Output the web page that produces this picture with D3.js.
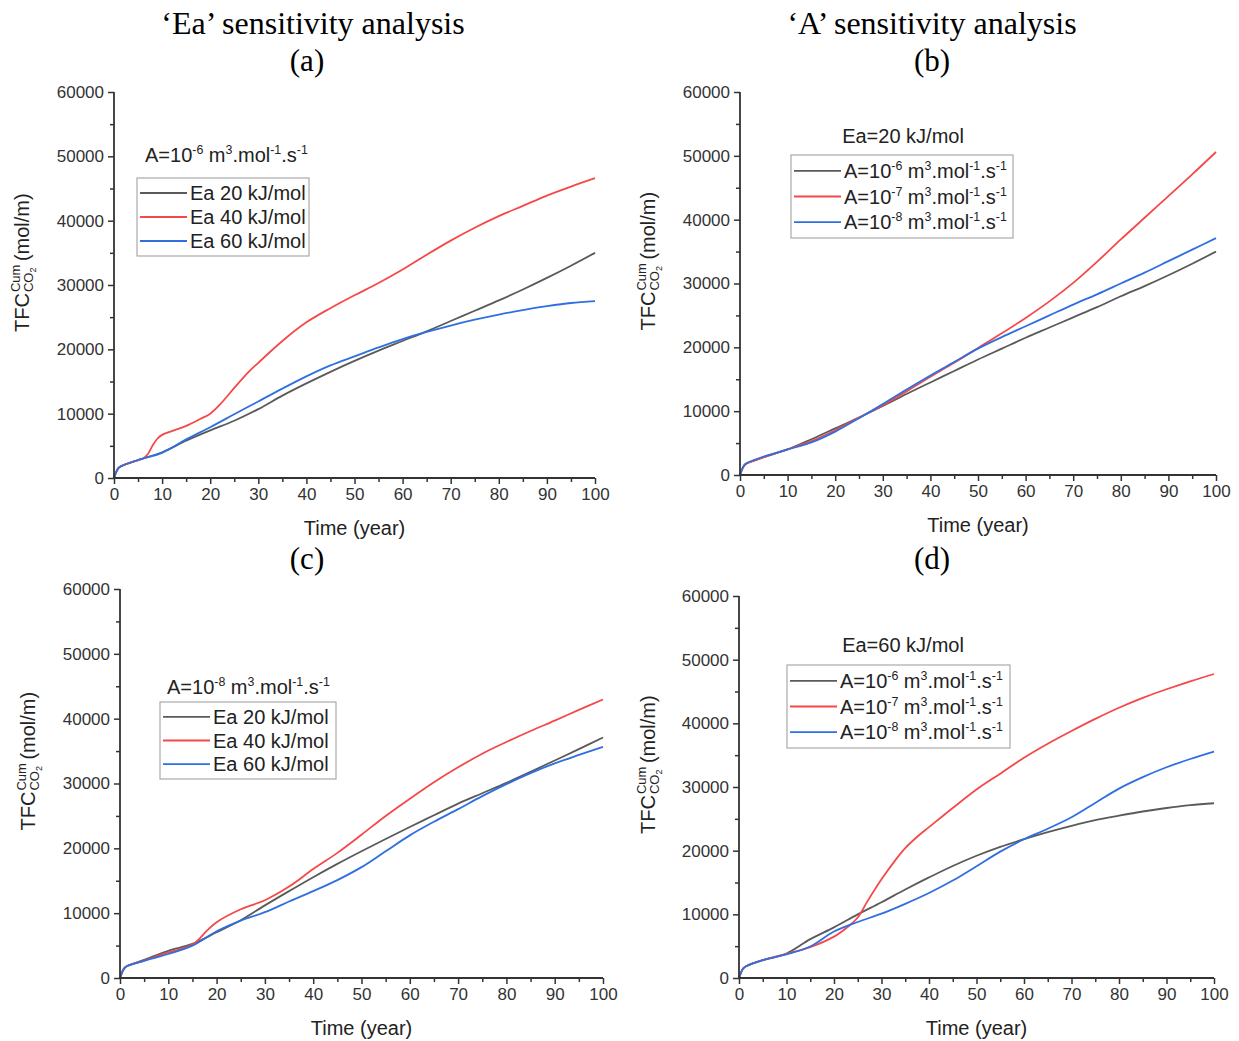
<!DOCTYPE html>
<html>
<head>
<meta charset="utf-8">
<script src="https://cdn.jsdelivr.net/npm/d3@7"></script>
<style>
  html, body { margin: 0; padding: 0; background: #fff; }
  svg { display: block; }
</style>
</head>
<body>
<svg id="chart" width="1239" height="1041"></svg>
<script>
// ---- Data: cumulative CO2 flux (mol/m) vs time (year), as [year, value] pairs ----

// Panel (a): A = 1e-6, varying Ea
const a_Ea20 = [[0,0],[0.5,1000],[1,1600],[1.5,1850],[5,2800],[10,4000],[15,5800],[20,7400],[25,8900],[30,10700],[35,12800],[40,14700],[45,16500],[50,18200],[55,19800],[60,21300],[65,22800],[70,24400],[75,26000],[80,27600],[85,29300],[90,31100],[95,33000],[100,35000]];
const a_Ea40 = [[0,0],[0.5,1000],[1,1600],[1.5,1850],[5,2750],[6,3000],[7,3700],[8,5000],[9,6100],[10,6700],[12,7300],[15,8100],[18,9200],[20,10000],[22,11400],[25,14000],[28,16500],[30,17900],[35,21300],[40,24200],[45,26400],[50,28400],[55,30300],[60,32400],[65,34700],[70,36900],[75,38900],[80,40700],[85,42300],[90,43900],[95,45300],[100,46600]];
const a_Ea60 = [[0,0],[0.5,1000],[1,1600],[1.5,1850],[5,2800],[10,3900],[15,6000],[20,7900],[25,9900],[30,11900],[35,13900],[40,15800],[45,17500],[50,18900],[55,20300],[60,21600],[65,22700],[70,23700],[75,24600],[80,25400],[85,26100],[90,26700],[95,27200],[100,27500]];

// Panel (b): Ea = 20 kJ/mol, varying A
const b_A6 = [[0,0],[0.5,1000],[1,1600],[1.5,1850],[5,2800],[10,4000],[15,5600],[20,7300],[25,9000],[30,10800],[35,12700],[40,14500],[45,16300],[50,18100],[55,19800],[60,21500],[65,23100],[70,24700],[75,26300],[80,28000],[85,29600],[90,31300],[95,33100],[100,35000]];
const b_A7 = [[0,0],[0.5,1000],[1,1600],[1.5,1850],[5,2800],[10,4000],[15,5300],[20,7000],[25,9000],[30,10900],[35,13100],[40,15400],[45,17600],[50,19900],[55,22200],[60,24600],[65,27200],[70,30100],[75,33400],[80,36900],[85,40300],[90,43700],[95,47100],[100,50600]];
const b_A8 = [[0,0],[0.5,1000],[1,1650],[1.5,1900],[5,2900],[10,4000],[15,5100],[20,6800],[25,8900],[30,11100],[35,13400],[40,15600],[45,17700],[50,19800],[55,21600],[60,23300],[65,25000],[70,26700],[75,28300],[80,30000],[85,31700],[90,33500],[95,35300],[100,37100]];

// Panel (c): A = 1e-8, varying Ea
const c_Ea20 = [[0,0],[0.5,1000],[1,1600],[1.5,1850],[5,2800],[10,4200],[15,5250],[20,7050],[25,8900],[30,11200],[35,13400],[40,15550],[45,17600],[50,19550],[55,21450],[60,23300],[65,25100],[70,26900],[75,28500],[80,30100],[85,31800],[90,33550],[95,35300],[100,37100]];
const c_Ea40 = [[0,0],[0.5,1000],[1,1600],[1.5,1850],[5,2700],[10,3950],[15,5150],[18,7300],[20,8600],[25,10600],[30,12000],[35,14100],[40,16800],[45,19300],[50,22100],[55,25000],[60,27650],[65,30200],[70,32500],[75,34600],[80,36400],[85,38100],[90,39700],[95,41350],[100,42950]];
const c_Ea60 = [[0,0],[0.5,1000],[1,1600],[1.5,1850],[5,2650],[10,3700],[15,5000],[20,7200],[25,8850],[30,10150],[35,11800],[40,13400],[45,15100],[50,17100],[55,19550],[60,22000],[65,24100],[70,26050],[75,28050],[80,29900],[85,31600],[90,33100],[95,34400],[100,35650]];

// Panel (d): Ea = 60 kJ/mol, varying A
const d_A6 = [[0,0],[0.5,1000],[1,1600],[1.5,1850],[5,2800],[10,3850],[15,6100],[20,7950],[25,10000],[30,11900],[35,13900],[40,15800],[45,17600],[50,19200],[55,20600],[60,21800],[65,22900],[70,23900],[75,24800],[80,25500],[85,26150],[90,26700],[95,27150],[100,27450]];
const d_A7 = [[0,0],[0.5,1000],[1,1600],[1.5,1850],[5,2800],[10,3800],[15,4850],[20,6500],[23,8100],[25,9500],[27,12000],[30,15500],[33,18600],[35,20400],[38,22500],[40,23700],[45,26700],[50,29600],[55,32100],[60,34600],[65,36800],[70,38800],[75,40700],[80,42450],[85,44000],[90,45350],[95,46600],[100,47750]];
const d_A8 = [[0,0],[0.5,1000],[1,1600],[1.5,1850],[5,2800],[10,3700],[15,4950],[20,7300],[25,8800],[30,10100],[35,11650],[40,13350],[45,15300],[50,17550],[55,19850],[60,21800],[65,23450],[70,25250],[75,27500],[80,29750],[85,31550],[90,33100],[95,34400],[100,35550]];

// Axis ticks
const xTicks = [0,10,20,30,40,50,60,70,80,90,100];
const xMinor = [5,15,25,35,45,55,65,75,85,95];
const yTicks = [0,10000,20000,30000,40000,50000,60000];
const yMinor = [5000,15000,25000,35000,45000,55000];

// Legend labels
const eaLabels = ["Ea 20 kJ/mol","Ea 40 kJ/mol","Ea 60 kJ/mol"];
const aExponents = ["-6","-7","-8"];

// Titles
const columnTitles = ["\u2018Ea\u2019 sensitivity analysis","\u2018A\u2019 sensitivity analysis"];
const panelTags = ["(a)","(b)","(c)","(d)"];

const colors = ["#5a5a5a","#f54848","#2f6fe0"];

// ---- Layout ----
const panels = [
  { tag:0, x0:114, x1:595, yTop:92, yBot:478, series:[a_Ea20,a_Ea40,a_Ea60], kind:"ea", exp:"-6",
    titleX:145, titleY:162, box:{x:137,y:178,w:172,h:78}, labelX:22 },
  { tag:1, x0:740, x1:1216, yTop:92, yBot:475, series:[b_A6,b_A7,b_A8], kind:"a", ea:"Ea=20 kJ/mol",
    titleX:903, titleY:143, box:{x:791,y:155,w:222,h:83}, labelX:648 },
  { tag:2, x0:120, x1:603, yTop:589, yBot:978, series:[c_Ea20,c_Ea40,c_Ea60], kind:"ea", exp:"-8",
    titleX:167, titleY:694, box:{x:160,y:702,w:176,h:77}, labelX:28 },
  { tag:3, x0:739, x1:1214, yTop:596, yBot:978, series:[d_A6,d_A7,d_A8], kind:"a", ea:"Ea=60 kJ/mol",
    titleX:903, titleY:652, box:{x:787,y:665,w:223,h:83}, labelX:648 }
];

const svg = d3.select("#chart");
const SANS = "Liberation Sans, Arial, sans-serif";
const SERIF = "Liberation Serif, Times New Roman, serif";

// Column titles and panel tags
svg.append("text").attr("x",313).attr("y",34).attr("text-anchor","middle")
  .attr("font-family",SERIF).attr("font-size",32).text(columnTitles[0]);
svg.append("text").attr("x",932).attr("y",34).attr("text-anchor","middle")
  .attr("font-family",SERIF).attr("font-size",32).text(columnTitles[1]);
const tagPos = [[307,71],[932,71],[307,569],[932,569]];
tagPos.forEach((p,i)=>{
  svg.append("text").attr("x",p[0]).attr("y",p[1]).attr("text-anchor","middle")
    .attr("font-family",SERIF).attr("font-size",31).text(panelTags[i]);
});

// Superscript-bearing text "A=10^e m^3.mol^-1.s^-1"
function aLabel(sel, exp, size) {
  const sup = size*0.62;
  const up = size*0.4;
  sel.append("tspan").text("A=10");
  sel.append("tspan").attr("font-size",sup).attr("dy",-up).text(exp);
  sel.append("tspan").attr("dy",up).text(" m");
  sel.append("tspan").attr("font-size",sup).attr("dy",-up).text("3");
  sel.append("tspan").attr("dy",up).text(".mol");
  sel.append("tspan").attr("font-size",sup).attr("dy",-up).text("-1");
  sel.append("tspan").attr("dy",up).text(".s");
  sel.append("tspan").attr("font-size",sup).attr("dy",-up).text("-1");
}

panels.forEach(p=>{
  const x = d3.scaleLinear().domain([0,100]).range([p.x0,p.x1]);
  const y = d3.scaleLinear().domain([0,60000]).range([p.yBot,p.yTop]);
  const g = svg.append("g");

  // curves
  const line = d3.line().x(d=>x(d[0])).y(d=>y(d[1])).curve(d3.curveCatmullRom.alpha(0.5));
  p.series.forEach((s,i)=>{
    g.append("path").datum(s).attr("d",line).attr("fill","none")
      .attr("stroke",colors[i]).attr("stroke-width",1.8).attr("stroke-linejoin","round");
  });

  // x axis
  const xAxis = d3.axisBottom(x).tickValues(xTicks).tickSize(6).tickPadding(4).tickFormat(d3.format("d"));
  const gx = g.append("g").attr("transform",`translate(0,${p.yBot})`).call(xAxis);
  gx.selectAll(".tick line").attr("stroke","#333").attr("stroke-width",1.5);
  gx.select(".domain").attr("stroke","#333").attr("stroke-width",1.8).attr("d",`M${p.x0},0H${p.x1}`);
  gx.selectAll("text").attr("font-family",SANS).attr("font-size",17).attr("fill","#333");
  g.append("g").attr("transform",`translate(0,${p.yBot})`)
    .call(d3.axisBottom(x).tickValues(xMinor).tickSize(4).tickFormat(""))
    .call(s=>{ s.select(".domain").remove(); s.selectAll("line").attr("stroke","#333").attr("stroke-width",1.5); });

  // y axis
  const yAxis = d3.axisLeft(y).tickValues(yTicks).tickSize(6).tickPadding(4).tickFormat(d3.format("d"));
  const gy = g.append("g").attr("transform",`translate(${p.x0},0)`).call(yAxis);
  gy.selectAll(".tick line").attr("stroke","#333").attr("stroke-width",1.5);
  gy.select(".domain").attr("stroke","#333").attr("stroke-width",1.8).attr("d",`M0,${p.yTop}V${p.yBot}`);
  gy.selectAll("text").attr("font-family",SANS).attr("font-size",17).attr("fill","#333");
  g.append("g").attr("transform",`translate(${p.x0},0)`)
    .call(d3.axisLeft(y).tickValues(yMinor).tickSize(4).tickFormat(""))
    .call(s=>{ s.select(".domain").remove(); s.selectAll("line").attr("stroke","#333").attr("stroke-width",1.5); });

  // x axis title
  g.append("text").attr("x",(p.x0+p.x1)/2).attr("y",p.yBot+57).attr("text-anchor","middle")
    .attr("font-family",SANS).attr("font-size",20).attr("fill","#222").text("Time (year)");

  // y axis title: TFC with stacked Cum / CO2 scripts, then (mol/m)
  const yc = (p.yTop+p.yBot)/2 + 47;
  const lab = g.append("g").attr("transform",`translate(${p.labelX},${yc}) rotate(-90)`);
  const t1 = lab.append("text").attr("font-family",SANS).attr("font-size",20).attr("fill","#222")
    .attr("x",0).attr("y",7).text("TFC");
  const w1 = t1.node().getComputedTextLength();
  const sub = lab.append("text").attr("font-family",SANS).attr("font-size",13).attr("fill","#222")
    .attr("x",w1+1).attr("y",11);
  sub.append("tspan").text("CO");
  sub.append("tspan").attr("font-size",9).attr("dy",3).text("2");
  lab.append("text").attr("font-family",SANS).attr("font-size",13).attr("fill","#222")
    .attr("x",w1+1).attr("y",-2).text("Cum");
  lab.append("text").attr("font-family",SANS).attr("font-size",20).attr("fill","#222")
    .attr("x",w1+32).attr("y",7).text("(mol/m)");

  // legend title
  const tt = g.append("text").attr("font-family",SANS).attr("font-size",20).attr("fill","#222");
  if (p.kind==="ea") {
    tt.attr("x",p.titleX).attr("y",p.titleY);
    aLabel(tt,p.exp,20);
  } else {
    tt.attr("x",p.titleX).attr("y",p.titleY).attr("text-anchor","middle").text(p.ea);
  }

  // legend box
  g.append("rect").attr("x",p.box.x).attr("y",p.box.y).attr("width",p.box.w).attr("height",p.box.h)
    .attr("fill","#fff").attr("stroke","#aaa").attr("stroke-width",1.2);
  const rowH = (p.box.h-6)/3;
  [0,1,2].forEach(i=>{
    const cy = p.box.y + 3 + rowH*(i+0.5);
    g.append("line").attr("x1",p.box.x+3).attr("x2",p.box.x+50).attr("y1",cy).attr("y2",cy)
      .attr("stroke",colors[i]).attr("stroke-width",1.8);
    const lt = g.append("text").attr("x",p.box.x+53).attr("y",cy+7)
      .attr("font-family",SANS).attr("font-size",20).attr("fill","#222");
    if (p.kind==="ea") lt.text(eaLabels[i]);
    else aLabel(lt,aExponents[i],20);
  });
});
</script>
</body>
</html>
